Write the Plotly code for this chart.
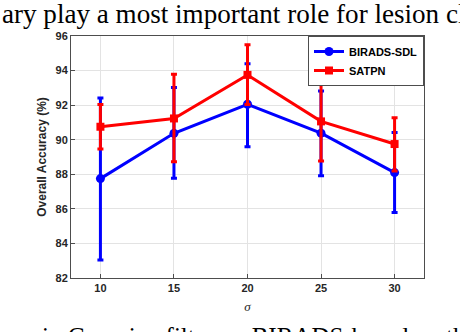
import plotly.graph_objects as go

sigma = [10, 15, 20, 25, 30]
birads_mean = [87.75, 90.37, 92.05, 90.38, 88.1]
birads_upper = [92.42, 93.02, 94.4, 92.82, 90.42]
birads_lower = [83.04, 87.77, 89.6, 87.92, 85.79]
satpn_mean = [90.75, 91.23, 93.75, 91.06, 89.75]
satpn_upper = [92.04, 93.79, 95.5, 93.3, 91.27]
satpn_lower = [89.46, 88.73, 92.03, 88.77, 88.19]

x_ticks = [10, 15, 20, 25, 30]
y_ticks = [82, 84, 86, 88, 90, 92, 94, 96]

def err(mean, up, lo):
    return dict(type="data", symmetric=False,
                array=[u - m for u, m in zip(up, mean)],
                arrayminus=[m - l for m, l in zip(mean, lo)])

fig = go.Figure()
fig.add_trace(go.Scatter(
    x=sigma, y=birads_mean, name="BIRADS-SDL", mode="lines+markers",
    line=dict(color="#0000ff", width=3),
    marker=dict(symbol="circle", size=9, color="#0000ff"),
    error_y=dict(**err(birads_mean, birads_upper, birads_lower), color="#0000ff", thickness=3, width=3),
))
fig.add_trace(go.Scatter(
    x=sigma, y=satpn_mean, name="SATPN", mode="lines+markers",
    line=dict(color="#ff0000", width=3),
    marker=dict(symbol="square", size=8, color="#ff0000"),
    error_y=dict(**err(satpn_mean, satpn_upper, satpn_lower), color="#ff0000", thickness=3, width=3),
))

axis_common = dict(
    showline=True, linecolor="#4d4d4d", linewidth=1, mirror=True,
    showgrid=True, gridcolor="#e3e3e3", gridwidth=1,
    ticks="inside", ticklen=4, tickcolor="#4d4d4d",
    tickfont=dict(family="Liberation Sans, Arial", size=11, color="#262626", weight="bold"),
    zeroline=False, automargin=False,
)
fig.update_xaxes(range=[8, 32], tickvals=x_ticks, ticktext=[str(v) for v in x_ticks],
                 title=dict(text="σ", font=dict(family="Liberation Serif", size=13, color="#262626", style="italic"), standoff=8),
                 **axis_common)
fig.update_yaxes(range=[82, 96], tickvals=y_ticks, ticktext=[str(v) for v in y_ticks],
                 title=dict(text="Overall Accuracy (%)", font=dict(family="Liberation Sans, Arial", size=12, color="#262626", weight="bold"), standoff=6),
                 **axis_common)

fig.update_layout(
    width=460, height=332,
    margin=dict(l=71, r=36, t=36, b=54, autoexpand=False),
    paper_bgcolor="white", plot_bgcolor="white",
    showlegend=True,
    legend=dict(x=1, y=1, xanchor="right", yanchor="top",
                bgcolor="white", bordercolor="#4d4d4d", borderwidth=1,
                font=dict(family="Liberation Sans, Arial", size=11, color="black", weight="bold"),
                itemwidth=30, tracegroupgap=2),
    annotations=[
        dict(text="ary play a most important role for lesion cl", xref="paper", yref="paper",
             x=-71/353, y=(278 - 14) / 242, xanchor="left", yanchor="middle", showarrow=False,
             font=dict(family="Liberation Serif, Times New Roman", size=27.1, color="black")),
        dict(text="in Gaussian filter on BIRADS-based on the", xref="paper", yref="paper",
             x=(40 - 71) / 353, y=(278 - 336) / 242, xanchor="left", yanchor="middle", showarrow=False,
             font=dict(family="Liberation Serif, Times New Roman", size=25, color="black")),
    ],
)

fig.write_html("out.html", config={"displayModeBar": False},
               post_script="document.body.style.margin='0';")
